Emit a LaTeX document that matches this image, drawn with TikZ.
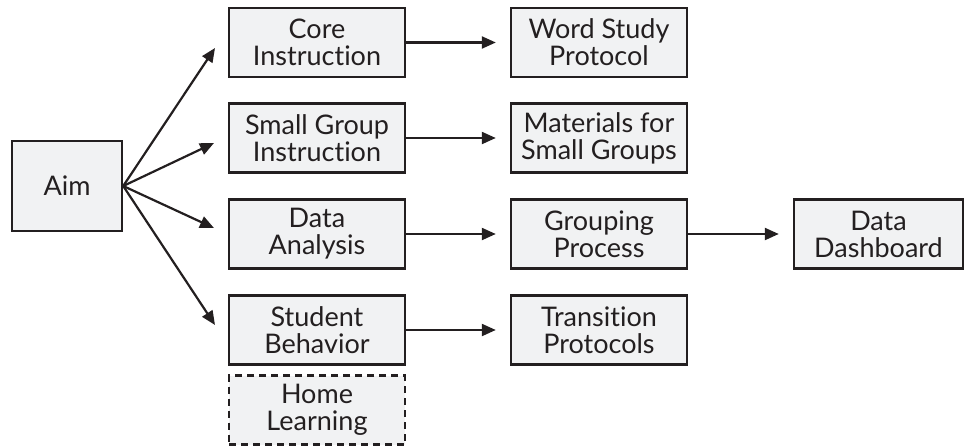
\documentclass[tikz,border=0pt]{standalone}
\usepackage{fontspec}
\setmainfont[Ligatures={NoCommon,NoRare}]{Lato}
\usetikzlibrary{arrows.meta}
\definecolor{boxfill}{HTML}{F1F2F3}
\definecolor{ink}{HTML}{231F20}
\tikzset{
  box/.style={draw=ink, fill=boxfill, line width=2.4pt, minimum width=176pt, minimum height=69pt,
    align=center, text=ink, font=\fontsize{27}{27}\selectfont, inner sep=0pt},
  dashbox/.style={box, dash pattern=on 7pt off 5pt},
  conn/.style={draw=ink, line width=2.2pt, -{Triangle[length=14pt,width=12pt]}}
}
\begin{document}
\begin{tikzpicture}[x=1pt,y=-1pt]
\useasboundingbox (0,0) rectangle (968,447);
\node[box, minimum width=110pt, minimum height=90pt] (aim) at (67,186) {Aim};
\node[box] (core) at (317,42.5) {Core\\Instruction};
\node[box] (small) at (317,138) {Small Group\\Instruction};
\node[box] (data) at (317,234) {Data\\Analysis};
\node[box] (stud) at (317,330) {Student\\Behavior};
\node[dashbox] (home) at (317,410) {Home\\Learning};
\node[box] (word) at (599,42.5) {Word Study\\Protocol};
\node[box] (mat) at (599,138) {Materials for\\Small Groups};
\node[box] (group) at (599,234) {Grouping\\Process};
\node[box] (trans) at (599,330) {Transition\\Protocols};
\node[box, minimum width=169pt] (dash) at (878.5,234) {Data\\Dashboard};
\coordinate (t1) at (215,48);
\coordinate (t2) at (214,143);
\coordinate (t3) at (214,228);
\coordinate (t4) at (215,325);
\foreach \t in {t1,t2,t3,t4} \draw[conn] (aim.east) -- (\t);
\draw[conn] (core.east) -- ([xshift=-14pt]word.west);
\draw[conn] (small.east) -- ([xshift=-14pt]mat.west);
\draw[conn] (data.east) -- ([xshift=-14pt]group.west);
\draw[conn] (stud.east) -- ([xshift=-14pt]trans.west);
\draw[conn] (group.east) -- ([xshift=-14pt]dash.west);
\end{tikzpicture}
\end{document}
